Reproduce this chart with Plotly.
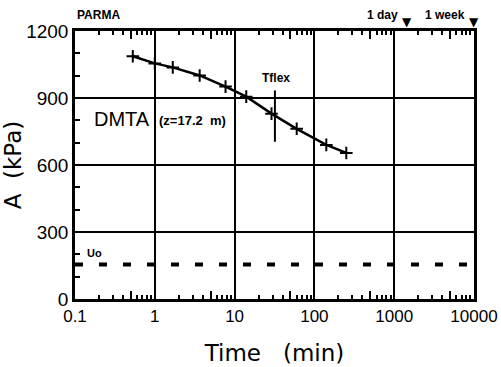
import plotly.graph_objects as go

# data
time_min = [0.53, 1.0, 1.68, 3.65, 7.7, 14, 29, 60, 141, 251]
a_kpa = [1087, 1055, 1037, 1001, 951, 906, 830, 762, 690, 654]
uo_time = [0.1, 10000]
uo_kpa = [155, 155]
tflex_time = [32, 32]
tflex_kpa = [934, 704]
marker_time = [1440, 10080]
marker_labels = ["1 day", "1 week"]
x_tickvals = [0.1, 1, 10, 100, 1000, 10000]
x_ticktext = ["0.1", "1", "10", "100", "1000", "10000"]
x_halfdecade = [0.5, 5, 50, 500, 5000]
y_tickvals = [0, 300, 600, 900, 1200]

NUM_FONT = "Liberation Sans Narrow, Arial Narrow, Liberation Sans, sans-serif"
TITLE_FONT = "DejaVu Sans, sans-serif"
XMIN, XMAX = -1, 4

fig = go.Figure()

# dashed Uo line (on top-tick overlay axis x2)
fig.add_trace(go.Scatter(
    x=uo_time, y=uo_kpa, mode="lines", xaxis="x2", yaxis="y",
    line=dict(color="black", width=4, dash="8px,16px"),
    showlegend=False, hoverinfo="skip"))

# Tflex marker line (on bottom half-decade tick overlay axis x3)
fig.add_trace(go.Scatter(
    x=tflex_time, y=tflex_kpa, mode="lines", xaxis="x3", yaxis="y",
    line=dict(color="black", width=2),
    showlegend=False, hoverinfo="skip"))

# DMTA curve line (main axis)
fig.add_trace(go.Scatter(
    x=time_min, y=a_kpa, mode="lines", xaxis="x", yaxis="y",
    line=dict(color="black", width=2.5),
    showlegend=False))

# DMTA curve markers (on top half-decade tick overlay axis x4)
fig.add_trace(go.Scatter(
    x=time_min, y=a_kpa, mode="markers", xaxis="x4", yaxis="y",
    marker=dict(symbol="cross-thin", size=9, line=dict(color="black", width=2)),
    showlegend=False))


def px(t):
    import math
    return (math.log10(t) - XMIN) / (XMAX - XMIN)


annotations = [
    dict(x=0, y=1.058, xref="paper", yref="paper", text="<b>PARMA</b>",
         showarrow=False, xanchor="left", yanchor="middle",
         font=dict(family=NUM_FONT, size=12, color="black")),
    dict(x=1.52, y=988, xref="x", yref="y", text="<b>Tflex</b>",
         showarrow=False, xanchor="center", yanchor="middle",
         font=dict(family=NUM_FONT, size=12, color="black")),
    dict(x=-0.41, y=807, xref="x", yref="y", text="DMTA",
         showarrow=False, xanchor="center", yanchor="middle",
         font=dict(family=NUM_FONT, size=20, color="black")),
    dict(x=0.47, y=798, xref="x", yref="y", text="<b>(z=17.2  m)</b>",
         showarrow=False, xanchor="center", yanchor="middle",
         font=dict(family=NUM_FONT, size=13, color="black")),
    dict(x=-0.76, y=205, xref="x", yref="y", text="<b>Uo</b>",
         showarrow=False, xanchor="center", yanchor="middle",
         font=dict(family=NUM_FONT, size=11, color="black")),
]

for t, lab in zip(marker_time, marker_labels):
    annotations.append(dict(x=px(t), y=1.058, xref="paper", yref="paper",
                            text="<b>" + lab + "</b>", showarrow=False,
                            xanchor="right", yanchor="middle", xshift=-7,
                            font=dict(family=NUM_FONT, size=12, color="black")))
    annotations.append(dict(x=px(t), y=1.032, xref="paper", yref="paper",
                            text="▼", showarrow=False,
                            xanchor="center", yanchor="middle",
                            font=dict(family="DejaVu Sans", size=12, color="black")))

common_x = dict(type="log", range=[XMIN, XMAX], showgrid=False, zeroline=False,
                automargin=False, showticklabels=False, showline=False,
                overlaying="x", anchor="y")

fig.update_layout(
    width=501, height=367,
    margin=dict(l=75, r=27, t=31, b=68),
    paper_bgcolor="white", plot_bgcolor="white",
    annotations=annotations,
    xaxis=dict(
        type="log", range=[XMIN, XMAX], automargin=False,
        tickvals=x_tickvals, ticktext=x_ticktext,
        showgrid=True, gridcolor="black", gridwidth=2,
        showline=True, linecolor="black", linewidth=2.5, mirror=True,
        ticks="inside", ticklen=0, tickcolor="black",
        minor=dict(ticks="inside", ticklen=4, tickwidth=1.5, tickcolor="black",
                   dtick="D1", showgrid=False),
        tickfont=dict(family=NUM_FONT, size=17, color="black"),
        title=dict(text="Time\u00a0\u00a0\u00a0(min)",
                   font=dict(family=TITLE_FONT, size=23, color="black"),
                   standoff=20),
        zeroline=False,
    ),
    xaxis2=dict(common_x, side="top",
                ticks="inside", ticklen=0, tickvals=x_tickvals,
                minor=dict(ticks="inside", ticklen=4, tickwidth=1.5, tickcolor="black",
                           dtick="D1", showgrid=False)),
    xaxis3=dict(common_x, side="bottom",
                ticks="inside", ticklen=8, tickwidth=1.5, tickcolor="black",
                tickvals=x_halfdecade),
    xaxis4=dict(common_x, side="top",
                ticks="inside", ticklen=8, tickwidth=1.5, tickcolor="black",
                tickvals=x_halfdecade),
    yaxis=dict(
        range=[0, 1200], automargin=False,
        tickvals=y_tickvals,
        showgrid=True, gridcolor="black", gridwidth=2,
        showline=True, linecolor="black", linewidth=2.5, mirror=True,
        ticks="inside", ticklen=0, tickcolor="black",
        minor=dict(ticks="inside", ticklen=5, tickwidth=1.5, tickcolor="black",
                   dtick=100, showgrid=False),
        tickfont=dict(family=NUM_FONT, size=19, color="black"),
        title=dict(text="A\u00a0\u00a0(kPa)",
                   font=dict(family=TITLE_FONT, size=23, color="black"),
                   standoff=10),
        zeroline=False,
    ),
)

fig.write_html("out.html")
